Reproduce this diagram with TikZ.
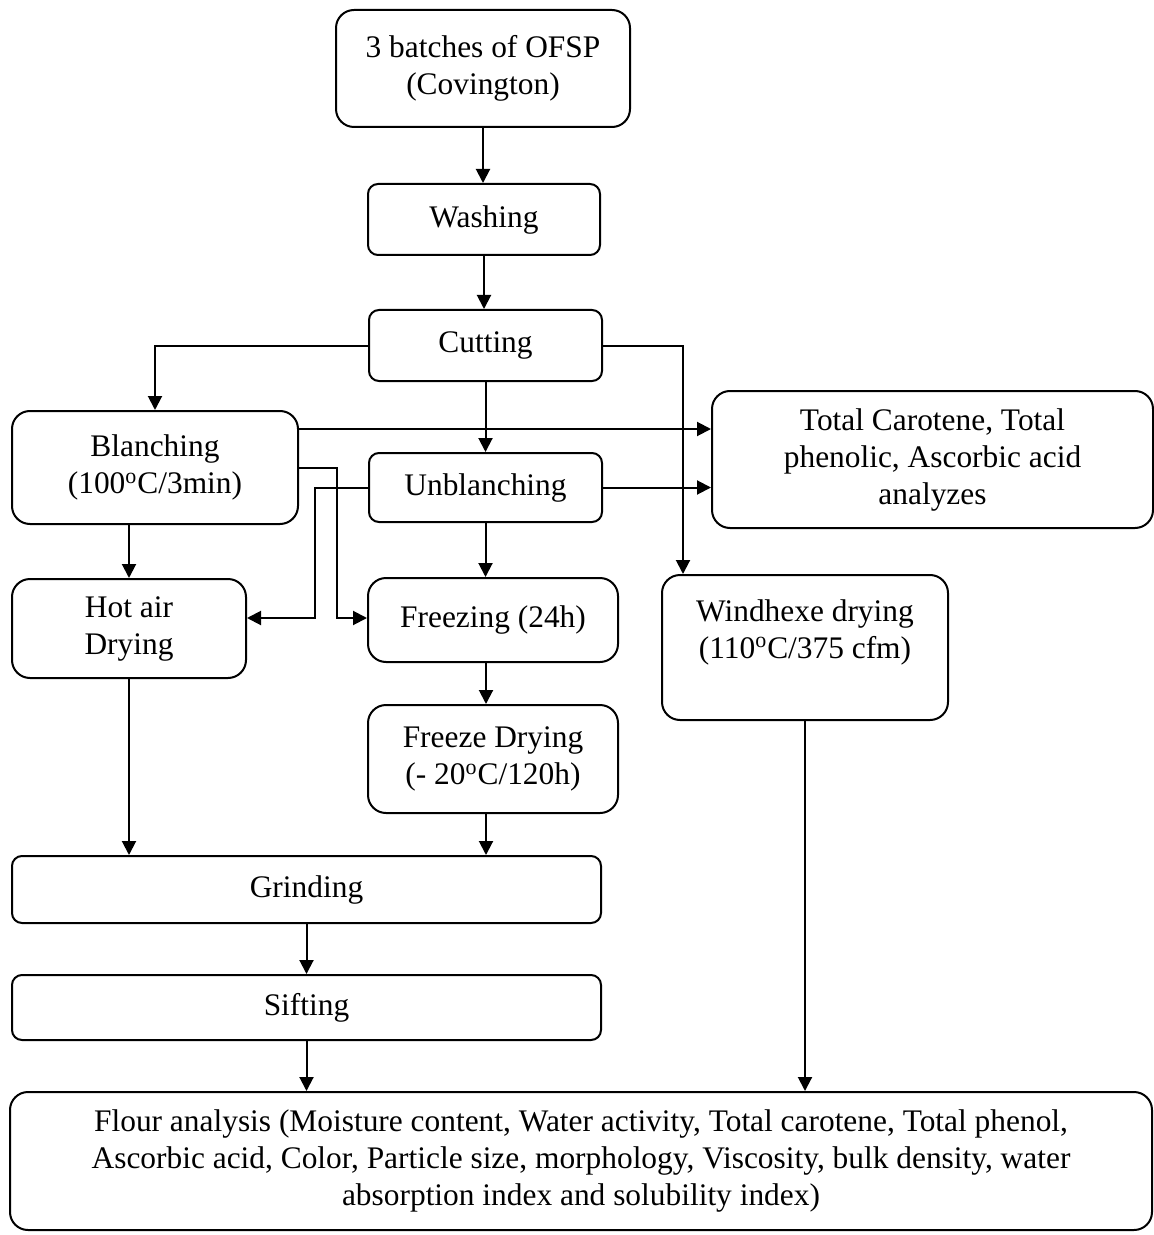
\documentclass[tikz,border=0pt]{standalone}
\usepackage{fontspec}
\setmainfont{Liberation Serif}
\usetikzlibrary{arrows.meta, positioning}

\begin{document}
\begin{tikzpicture}[
		x=0.5pt, y=-0.5pt,
		font=\fontsize{15.7}{18.5}\selectfont,
		procbox/.style={draw, line width=1pt, rounded corners=5pt,
			inner sep=2pt, align=center},
		bigbox/.style={procbox, rounded corners=9pt},
		arrow/.style={-{Triangle[length=7pt, width=7pt]}, line width=1pt}
	]
		\useasboundingbox (0,0) rectangle (1154,1235);
		% main column
		\node[bigbox, minimum width=147pt, minimum height=58.5pt] (raw) at (483,68.5) {3 batches of OFSP\\(Covington)};
		\node[procbox, minimum width=116pt, minimum height=35.5pt] (wash) at (484,219.5) {Washing};
		\node[procbox, minimum width=116.5pt, minimum height=35.5pt] (cut) at (485.5,345.5) {Cutting};
		\node[bigbox, minimum width=143pt, minimum height=56.5pt] (blanch) at (155,467.5) {Blanching\\(100\textsuperscript{o}C/3min)};
		\node[procbox, minimum width=116.5pt, minimum height=34.5pt] (unbl) at (485.5,487.5) {Unblanching};
		\node[bigbox, minimum width=220.5pt, minimum height=68.5pt] (tca) at (932.5,459.5) {Total Carotene, Total\\phenolic, Ascorbic acid\\analyzes};
		\node[bigbox, minimum width=117pt, minimum height=49.5pt] (hotair) at (129,628.5) {Hot air\\Drying};
		\node[bigbox, minimum width=125pt, minimum height=42pt] (freeze) at (493,620) {Freezing (24h)};
		\node[bigbox, minimum width=143pt, minimum height=72.5pt] (wind) at (805,647.5) {Windhexe drying\\(110\textsuperscript{o}C/375 cfm)\\\mbox{}};
		\node[bigbox, minimum width=125pt, minimum height=54pt] (fdry) at (493,759) {Freeze Drying\\(- 20\textsuperscript{o}C/120h)};
		\node[procbox, minimum width=294.5pt, minimum height=33.5pt] (grind) at (306.5,889.5) {Grinding};
		\node[procbox, minimum width=294.5pt, minimum height=32.5pt] (sift) at (306.5,1007.5) {Sifting};
		\node[bigbox, minimum width=571pt, minimum height=69pt] (flour) at (581,1161) {Flour analysis (Moisture content, Water activity, Total carotene, Total phenol,\\Ascorbic acid, Color, Particle size, morphology, Viscosity, bulk density, water\\absorption index and solubility index)};
		% helper points for offset connectors
		\path ([yshift=19.25pt]blanch.east) coordinate (blanchhi)
			([xshift=11pt]wind.north west) coordinate (winddrop)
			([xshift=-3.5pt]freeze.south) coordinate (freezeout)
			([xshift=-3.5pt]fdry.north) coordinate (fdryin)
			([xshift=-3.5pt]fdry.south) coordinate (fdryout);
		\draw[arrow] (raw.south) -- (raw.south |- wash.north);
		\draw[arrow] (wash.south) -- (wash.south |- cut.north);
		\draw[arrow] (cut.west) -| (blanch.north);
		\draw[arrow] (cut.east) -| (winddrop);
		\draw[arrow] (cut.south) -- (unbl.north);
		\draw[arrow] (blanchhi) -- (blanchhi -| tca.west);
		\draw[arrow] (unbl.east) -- (unbl.east -| tca.west);
		\draw[arrow] (blanch.east) -- ++(19pt,0) |- ([yshift=1pt]freeze.west);
		\draw[arrow] (unbl.west) -- ++(-26.5pt,0) |- ([yshift=5.25pt]hotair.east);
		\draw[arrow] (hotair.north |- blanch.south) -- (hotair.north);
		\draw[arrow] (unbl.south) -- (unbl.south |- freeze.north);
		\draw[arrow] (freezeout) -- (fdryin);
		\draw[arrow] (fdryout) -- (fdryout |- grind.north);
		\draw[arrow] (hotair.south) -- (hotair.south |- grind.north);
		\draw[arrow] (grind.south) -- (sift.north);
		\draw[arrow] (sift.south) -- (sift.south |- flour.north);
		\draw[arrow] (wind.south) -- (wind.south |- flour.north);
	\end{tikzpicture}
\end{document}
